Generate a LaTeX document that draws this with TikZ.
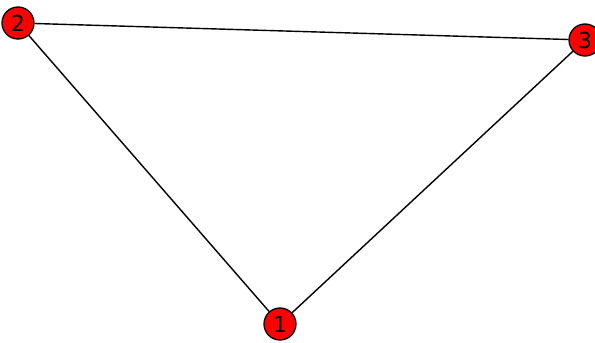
\documentclass[tikz,border=0pt]{standalone}
\usepackage{fontspec}
\setmainfont{DejaVu Sans}
\begin{document}
\begin{tikzpicture}[x=1pt,y=-1pt,
  vertex/.style={circle, draw=black, fill=red, line width=1.3pt, minimum size=32pt,
                 inner sep=0pt, font=\fontsize{22}{22}\selectfont},
  edge/.style={line width=1.4pt, draw=black}
]
  \useasboundingbox (0,0) rectangle (595,343);
  \node[vertex] (n1) at (280,324) {1};
  \node[vertex] (n2) at (18,23)   {2};
  \node[vertex] (n3) at (585,40)  {3};

  \draw[edge] (n2) -- (n3);
  \draw[edge] (n2) -- (n1);
  \draw[edge] (n3) -- (n1);
\end{tikzpicture}
\end{document}
